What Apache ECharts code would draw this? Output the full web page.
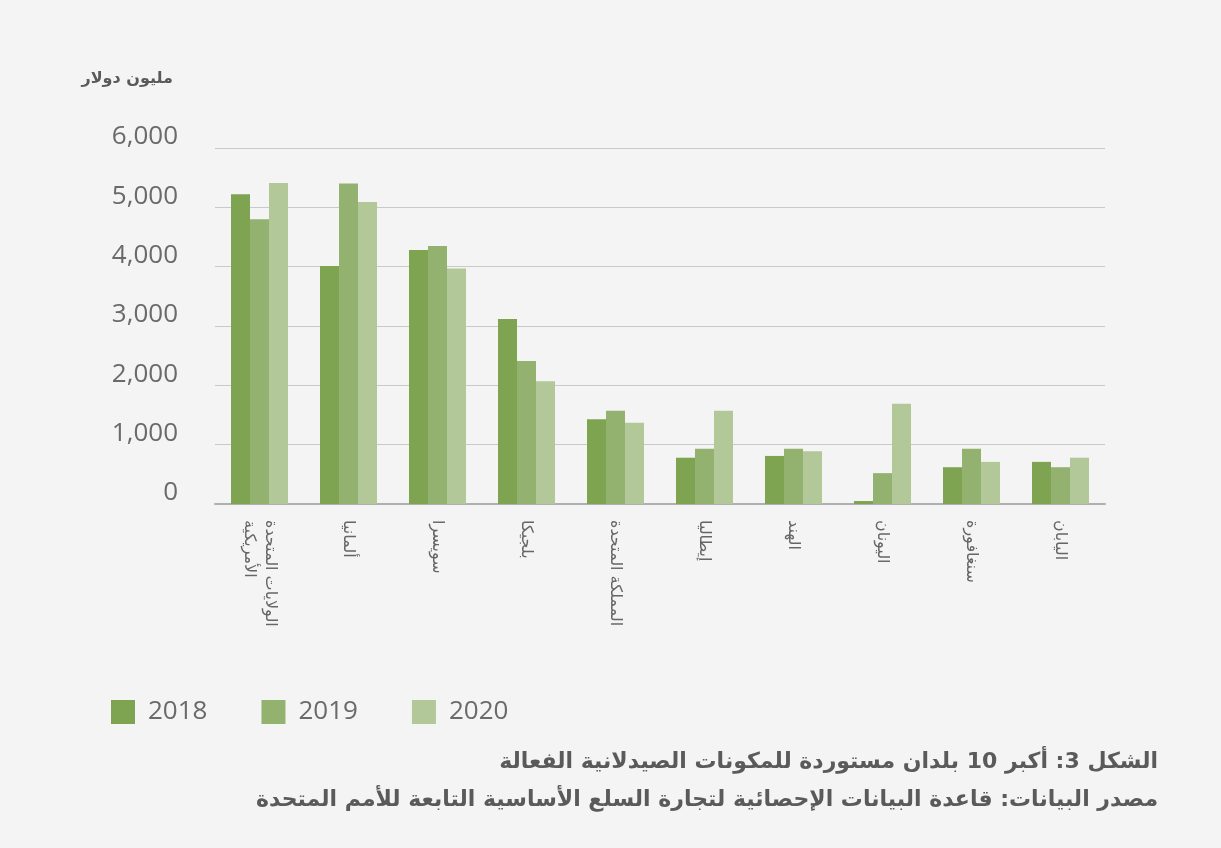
<!DOCTYPE html>
<html>
<head>
<meta charset="utf-8">
<script src="https://cdn.jsdelivr.net/npm/echarts@6/dist/echarts.min.js"></script>
<style>
html,body{margin:0;padding:0;background:#f4f4f4;}
#chart{width:1221px;height:848px;}
</style>
</head>
<body>
<div id="chart"></div>
<script>
const categories = ['الولايات المتحدة\nالأمريكية','ألمانيا','سويسرا','بلجيكا','المملكة المتحدة','إيطاليا','الهند','اليونان','سنغافورة','اليابان'];
const years = ['2018','2019','2020'];
const values2018 = [5220, 4010, 4280, 3120, 1430, 780, 810, 50, 620, 710];
const values2019 = [4800, 5400, 4350, 2410, 1570, 930, 930, 520, 930, 620];
const values2020 = [5410, 5090, 3970, 2070, 1370, 1570, 890, 1690, 710, 780];
const colors = ['#7ea452', '#93b16f', '#b3c899'];
const unitLabel = 'مليون دولار';
const titleLine1 = 'الشكل 3: أكبر 10 بلدان مستوردة للمكونات الصيدلانية الفعالة';
const titleLine2 = 'مصدر البيانات: قاعدة البيانات الإحصائية لتجارة السلع الأساسية التابعة للأمم المتحدة';

const arFont = '"DejaVu Sans", "Noto Sans", sans-serif';
const numFont = '"Open Sans", "DejaVu Sans", sans-serif';

const chart = echarts.init(document.getElementById('chart'), null, {renderer: 'canvas'});
const seriesData = [values2018, values2019, values2020];
chart.setOption({
  backgroundColor: '#f4f4f4',
  animation: false,
  color: colors,
  grid: {left: 215, right: 116, top: 148, bottom: 344, containLabel: false},
  legend: {
    left: 106, top: 694,
    itemWidth: 24, itemHeight: 24, itemGap: 54,
    icon: 'rect',
    data: years,
    textStyle: {fontFamily: numFont, fontSize: 26, color: '#6a6a6a', padding: [0, 0, 0, 8]}
  },
  xAxis: {
    type: 'category',
    data: categories,
    axisLine: {lineStyle: {color: '#b0b0b0', width: 2}},
    axisTick: {show: false},
    axisLabel: {
      interval: 0, rotate: -90, margin: 16,
      fontFamily: arFont, fontSize: 16, color: '#666666', lineHeight: 21, align: 'left'
    }
  },
  yAxis: {
    type: 'value', min: 0, max: 6000, interval: 1000,
    axisLine: {show: false}, axisTick: {show: false},
    splitLine: {lineStyle: {color: '#c9c9c9', width: 1}},
    axisLabel: {
      margin: 37, fontFamily: numFont, fontSize: 26, color: '#6a6a6a',
      verticalAlign: 'bottom', padding: [0, 0, -2, 0],
      formatter: v => v.toLocaleString('en-US')
    }
  },
  series: years.map((y, i) => ({
    name: y, type: 'bar', data: seriesData[i],
    barWidth: 19, barGap: '0%',
    itemStyle: {color: colors[i]}
  })),
  graphic: [
    {type: 'text', right: 1221 - 173, top: 71, style: {text: unitLabel, font: 'bold 16px ' + arFont, fill: '#5a5a5a'}},
    {type: 'text', right: 1221 - 1158, top: 751, style: {text: titleLine1, font: 'bold 22px ' + arFont, fill: '#5a5a5a'}},
    {type: 'text', right: 1221 - 1158, top: 789, style: {text: titleLine2, font: 'bold 22px ' + arFont, fill: '#5a5a5a'}}
  ]
});
</script>
</body>
</html>
